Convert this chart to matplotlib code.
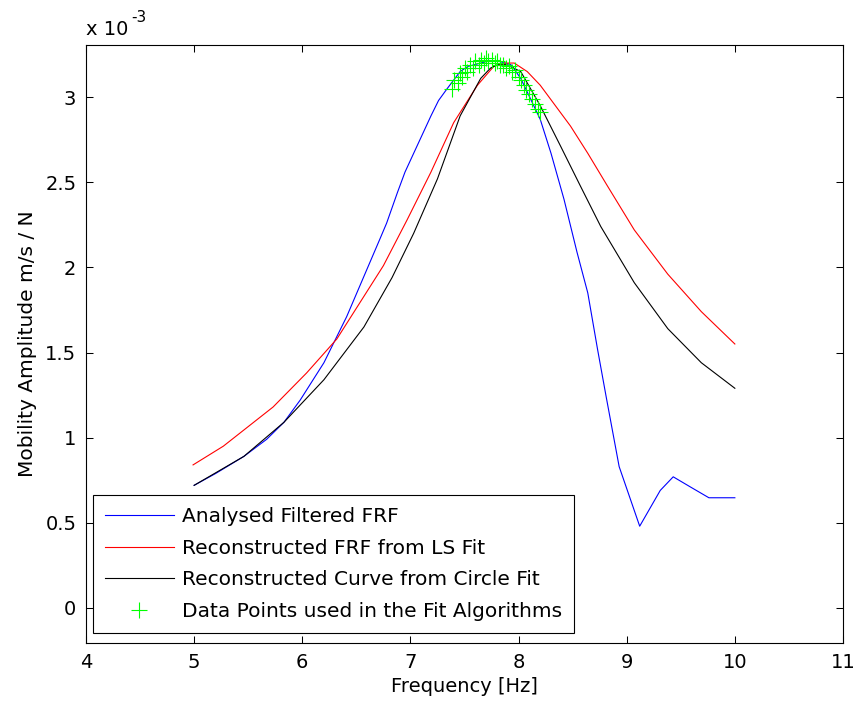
import matplotlib
matplotlib.use("Agg")
import matplotlib.pyplot as plt

plt.rcParams['font.family'] = ['DejaVu Sans']

# Frequency [Hz] / mobility amplitude (x 1e-3 m/s/N)
blue_f = [5.00, 5.20, 5.46, 5.67, 5.83, 5.98, 6.20, 6.41, 6.72, 6.78, 6.88, 6.95,
          7.03, 7.11, 7.19, 7.26, 7.34, 7.40, 7.46, 7.53, 7.59, 7.71, 7.82, 7.93,
          8.02, 8.20, 8.30, 8.42, 8.54, 8.64, 8.73, 8.81, 8.93, 9.12, 9.31, 9.43,
          9.59, 9.76, 10.00]
blue_a = [0.72, 0.79, 0.89, 0.99, 1.09, 1.22, 1.44, 1.71, 2.17, 2.26, 2.44, 2.56,
          2.67, 2.78, 2.89, 2.98, 3.05, 3.10, 3.15, 3.18, 3.19, 3.21, 3.21, 3.19,
          3.11, 2.87, 2.67, 2.40, 2.09, 1.85, 1.52, 1.24, 0.83, 0.48, 0.69, 0.77,
          0.71, 0.647, 0.647]

red_f = [4.99, 5.27, 5.73, 6.04, 6.32, 6.75, 6.97, 7.19, 7.40, 7.62, 7.77, 7.87,
         7.96, 8.08, 8.20, 8.48, 8.64, 8.82, 9.07, 9.38, 9.69, 10.00]
red_a = [0.84, 0.95, 1.18, 1.38, 1.58, 2.01, 2.28, 2.56, 2.85, 3.07, 3.18, 3.20,
         3.20, 3.15, 3.07, 2.83, 2.67, 2.48, 2.22, 1.96, 1.74, 1.55]

black_f = [5.00, 5.46, 5.83, 6.20, 6.57, 6.83, 7.03, 7.25, 7.46, 7.65, 7.74, 7.82,
           7.89, 8.02, 8.20, 8.39, 8.57, 8.76, 9.07, 9.38, 9.69, 10.00]
black_a = [0.72, 0.89, 1.09, 1.34, 1.65, 1.94, 2.20, 2.52, 2.89, 3.11, 3.17, 3.195,
           3.19, 3.15, 2.95, 2.71, 2.48, 2.24, 1.91, 1.64, 1.44, 1.29]

green_f = [7.38, 7.40, 7.44, 7.46, 7.48, 7.50, 7.52, 7.55, 7.58, 7.60, 7.63, 7.65,
           7.68, 7.70, 7.72, 7.75, 7.78, 7.80, 7.83, 7.86, 7.88, 7.91, 7.94, 7.97,
           8.00, 8.02, 8.05, 8.07, 8.10, 8.12, 8.15, 8.18, 8.20]
green_a = [3.05, 3.10, 3.08, 3.14, 3.12, 3.17, 3.15, 3.19, 3.17, 3.21, 3.19, 3.22,
           3.20, 3.23, 3.21, 3.22, 3.20, 3.21, 3.19, 3.19, 3.17, 3.18, 3.15, 3.16,
           3.12, 3.10, 3.07, 3.04, 3.02, 2.99, 2.96, 2.93, 2.91]

labels = ['Analysed Filtered FRF', 'Reconstructed FRF from LS Fit',
          'Reconstructed Curve from Circle Fit', 'Data Points used in the Fit Algorithms']

xticks = [4, 5, 6, 7, 8, 9, 10, 11]
yticks = [0, 0.5, 1, 1.5, 2, 2.5, 3]
ytick_labels = ['0', '0.5', '1', '1.5', '2', '2.5', '3']

W, H = 856, 709
fig = plt.figure(figsize=(W / 100, H / 100), dpi=100)
ax = fig.add_axes([86 / W, (H - 643) / H, (843 - 86) / W, (643 - 45) / H])

lw = 0.8
ax.plot(blue_f, blue_a, color=(0, 0, 1), lw=lw, label=labels[0])
ax.plot(red_f, red_a, color=(1, 0, 0), lw=lw, label=labels[1])
ax.plot(black_f, black_a, color='black', lw=lw, label=labels[2])
ax.plot(green_f, green_a, linestyle='none', marker='+', markersize=11,
        markeredgewidth=0.8, color=(0, 1, 0), label=labels[3])

ax.set_xlim(4, 11)
ax.set_ylim(-0.206, 3.306)
ax.set_xticks(xticks)
ax.set_xticklabels([str(t) for t in xticks])
ax.set_yticks(yticks)
ax.set_yticklabels(ytick_labels)
ax.tick_params(direction='in', top=True, right=True, length=5, width=0.75,
               labelsize=14, pad=7)
for s in ax.spines.values():
    s.set_linewidth(0.8)

ax.set_xlabel('Frequency [Hz]', fontsize=14, labelpad=4)
ax.set_ylabel('Mobility Amplitude m/s / N', fontsize=14.5, labelpad=6)

fig.text(86 / W, (H - 35) / H, 'x 10', fontsize=14, ha='left', va='baseline')
fig.text(131 / W, (H - 22) / H, '-3', fontsize=11, ha='left', va='baseline')

leg = ax.legend(loc='lower left', bbox_to_anchor=(7 / 757, 10 / 598),
                borderaxespad=0, fontsize=14.5, handlelength=3.4,
                handletextpad=0.4, labelspacing=0.62, borderpad=0.6,
                numpoints=1, fancybox=False, framealpha=1)
leg.get_frame().set_edgecolor('black')
leg.get_frame().set_linewidth(0.8)

fig.savefig('out.png', dpi=100)
